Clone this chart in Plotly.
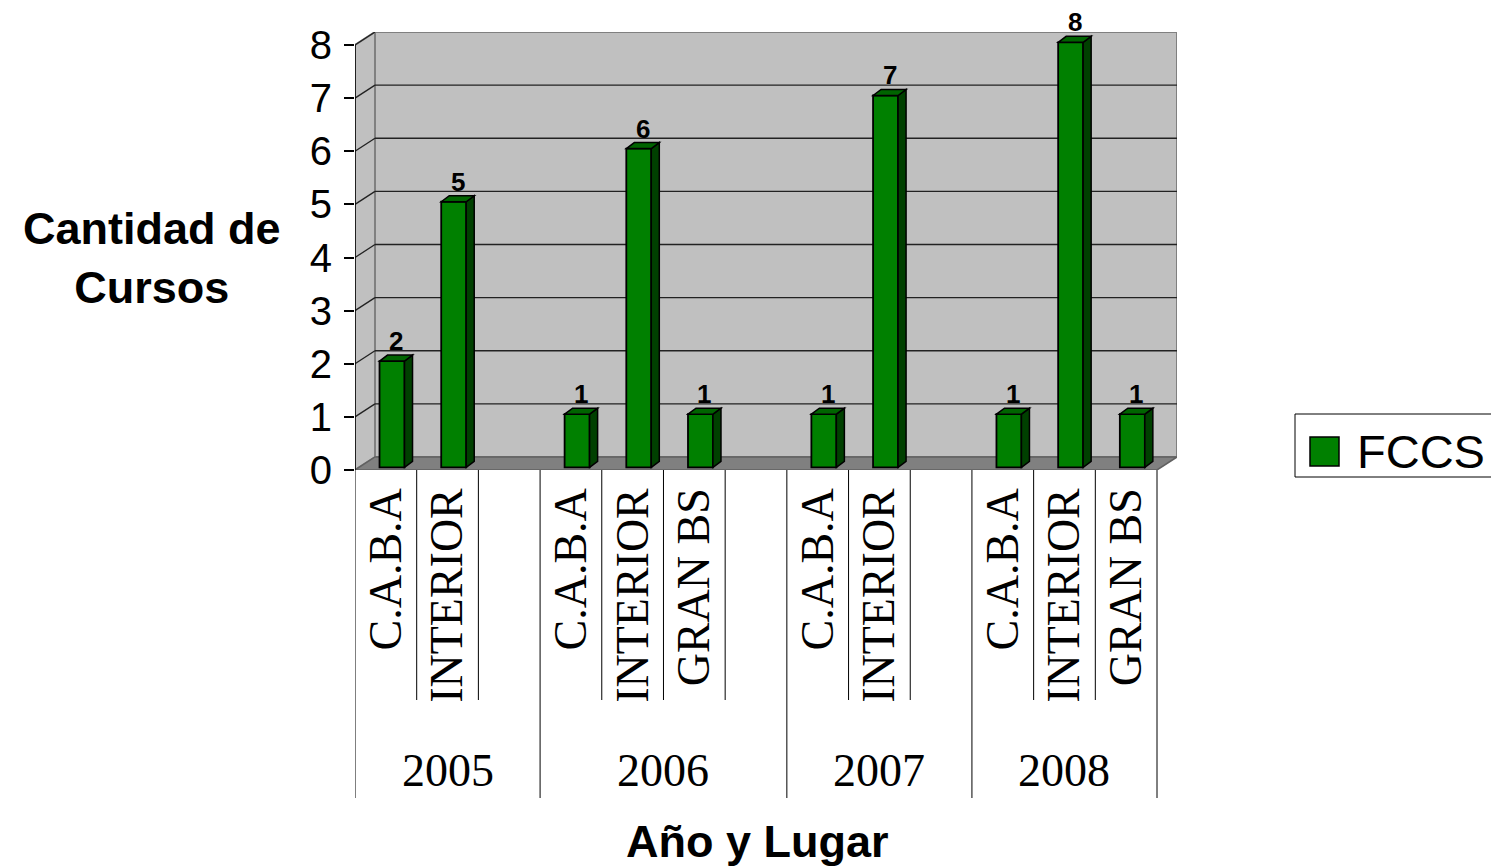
import plotly.graph_objects as go

# datos
years = ["2005", "2006", "2007", "2008"]
year_slots = [3, 4, 3, 3]
places = ["C.A.B.A", "INTERIOR", "",
          "C.A.B.A", "INTERIOR", "GRAN BS", "",
          "C.A.B.A", "INTERIOR", "",
          "C.A.B.A", "INTERIOR", "GRAN BS"]
cursos = [2, 5, None, 1, 6, 1, None, 1, 7, None, 1, 8, 1]
serie = "FCCS"

green = "#008000"
sans = "Liberation Sans, Arial, sans-serif"
serif = "Liberation Serif, Times New Roman, serif"

# profundidad 3D (unidades de datos)
n = len(places)
dxw, dyw = 0.324, 0.245      # paredes
dxb, dyb = 0.13, 0.113       # barras
bw, boff, bbase = 0.405, 0.1, 0.05
ymax = 8

bx = [i + boff for i, v in enumerate(cursos) if v is not None]
by = [v for v in cursos if v is not None]

fig = go.Figure()
fig.add_trace(go.Bar(x=bx, y=by, base=bbase, width=bw, name=serie,
                     marker=dict(color=green, line=dict(color="black", width=1.8)),
                     showlegend=False, hoverinfo="skip"))

shapes = []
x0, x1 = -0.5, n - 0.5
# pared del fondo
shapes.append(dict(type="rect", x0=x0 + dxw, x1=x1 + dxw, y0=dyw, y1=ymax + dyw,
                   fillcolor="#C0C0C0", line=dict(color="#808080", width=2), layer="below"))
# pared izquierda
shapes.append(dict(type="path",
                   path=f"M{x0},0 L{x0 + dxw},{dyw} L{x0 + dxw},{ymax + dyw} L{x0},{ymax} Z",
                   fillcolor="#C0C0C0", line=dict(color="#808080", width=2), layer="below"))
# grilla
for k in range(1, ymax):
    shapes.append(dict(type="line", x0=x0 + dxw, x1=x1 + dxw, y0=k + dyw, y1=k + dyw,
                       line=dict(color="#222222", width=1.3), layer="below"))
for k in range(1, ymax + 1):
    shapes.append(dict(type="line", x0=x0, x1=x0 + dxw, y0=k, y1=k + dyw,
                       line=dict(color="#222222", width=1.3), layer="below"))
# piso
shapes.append(dict(type="path",
                   path=f"M{x0},0 L{x1},0 L{x1 + dxw},{dyw} L{x0 + dxw},{dyw} Z",
                   fillcolor="#808080", line=dict(color="#606060", width=1.5), layer="below"))
# eje y
shapes.append(dict(type="line", x0=x0, x1=x0, y0=0, y1=ymax,
                   line=dict(color="black", width=1.5)))

# caras laterales y superiores de las barras
for xc, v in zip(bx, by):
    r = xc + bw / 2
    l = xc - bw / 2
    t = bbase + v
    shapes.append(dict(type="path",
                       path=f"M{r},{bbase} L{r + dxb},{bbase + dyb} L{r + dxb},{t + dyb} L{r},{t} Z",
                       fillcolor="#004000", line=dict(color="black", width=1.5)))
    shapes.append(dict(type="path",
                       path=f"M{l},{t} L{l + dxb},{t + dyb} L{r + dxb},{t + dyb} L{r},{t} Z",
                       fillcolor="#006400", line=dict(color="black", width=1.5)))

# separadores de categorias bajo el eje
ph = 438.0
pw = 822.0
inner_y = -230 / ph
group_y = -328 / ph
bounds = [0]
for s in year_slots:
    bounds.append(bounds[-1] + s)
for i in range(n + 1):
    b = i - 0.5
    is_group = i in bounds
    shapes.append(dict(type="line", xref="x", yref="paper", x0=b, x1=b, y0=0,
                       y1=group_y if is_group else inner_y,
                       line=dict(color="black", width=1)))

annotations = []
for xc, v in zip(bx, by):
    annotations.append(dict(x=xc + dxb / 2, y=bbase + v + dyb, text=f"<b>{v}</b>",
                            showarrow=False, xanchor="center", yanchor="bottom", yshift=-3,
                            font=dict(family=sans, size=26, color="black")))
for yr, a, b in zip(years, bounds[:-1], bounds[1:]):
    annotations.append(dict(x=(a + b - 1) / 2, y=-300 / ph, xref="x", yref="paper",
                            text=yr, showarrow=False, xanchor="center", yanchor="middle",
                            font=dict(family=serif, size=46, color="black")))

# titulos
annotations.append(dict(x=(152 - 355) / pw, y=(470 - 258) / ph, xref="paper", yref="paper",
                        text="<b>Cantidad de<br>Cursos</b>", showarrow=False,
                        xanchor="center", yanchor="middle",
                        font=dict(family=sans, size=45, color="black")))
annotations.append(dict(x=(757 - 355) / pw, y=(470 - 842) / ph, xref="paper", yref="paper",
                        text="<b>Año y Lugar</b>", showarrow=False,
                        xanchor="center", yanchor="middle",
                        font=dict(family=sans, size=45, color="black")))

# leyenda
shapes.append(dict(type="rect", xref="paper", yref="paper",
                   x0=(1295 - 355) / pw, x1=(1498 - 355) / pw,
                   y0=(470 - 477) / ph, y1=(470 - 414) / ph,
                   line=dict(color="black", width=1), fillcolor="white"))
shapes.append(dict(type="rect", xref="paper", yref="paper",
                   x0=(1310 - 355) / pw, x1=(1339 - 355) / pw,
                   y0=(470 - 466) / ph, y1=(470 - 437) / ph,
                   line=dict(color="black", width=1.5), fillcolor=green))
annotations.append(dict(x=(1355 - 355) / pw, y=(470 - 451) / ph, xref="paper", yref="paper",
                        text=serie, showarrow=False, xanchor="left", yanchor="middle",
                        font=dict(family=sans, size=47, color="black")))

# la pagina tiene 8px de margen en el body
fig.update_layout(
    width=1491, height=858,
    margin=dict(l=347, r=322, t=24, b=396),
    paper_bgcolor="white", plot_bgcolor="white",
    shapes=shapes, annotations=annotations,
    showlegend=False,
)
fig.update_xaxes(range=[x0, x1 + dxw], tickvals=list(range(n)), ticktext=places,
                 tickangle=-90, showgrid=False, zeroline=False, showline=False,
                 ticks="", ticklabelstandoff=8,
                 tickfont=dict(family=serif, size=46, color="black"))
fig.update_yaxes(range=[0, ymax + dyw], tickvals=list(range(ymax + 1)),
                 showgrid=False, zeroline=False, showline=False,
                 ticks="outside", ticklen=10, tickcolor="black", tickwidth=1.5,
                 ticklabelstandoff=4,
                 tickfont=dict(family=sans, size=40, color="black"))

fig.write_html("out.html")
